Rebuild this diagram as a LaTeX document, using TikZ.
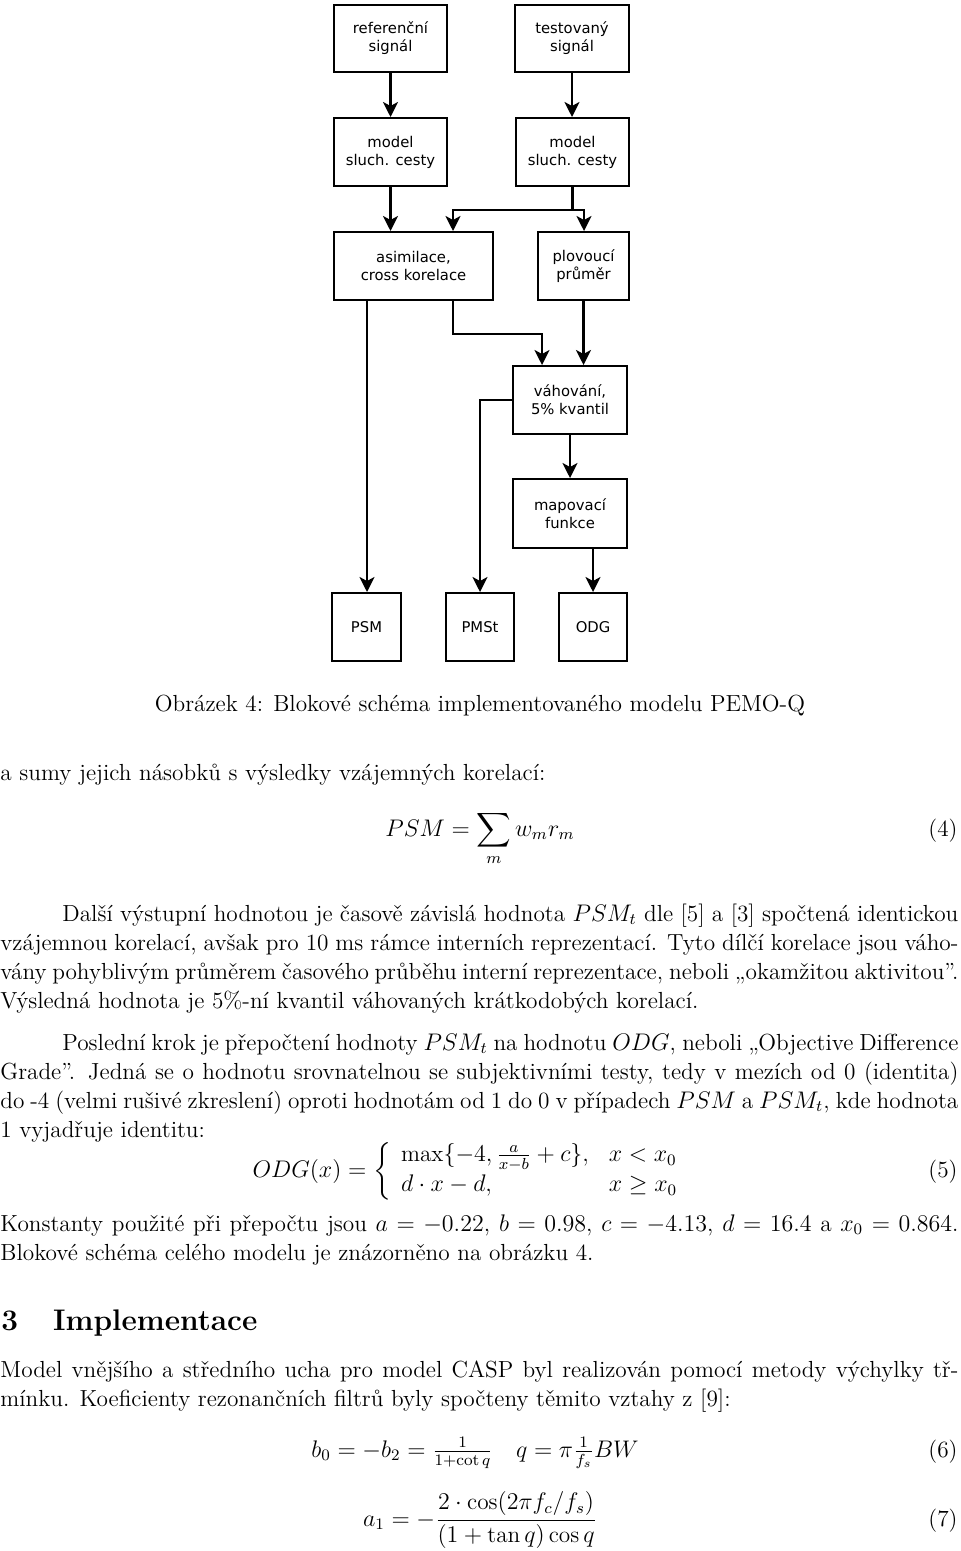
\documentclass[tikz,border=0pt]{standalone}
\usepackage{amsmath}
\usepackage{fontspec}
\newfontfamily\dejavu{DejaVu Sans}
\usetikzlibrary{arrows.meta}
\begin{document}
\begin{tikzpicture}[x=0.5pt,y=-0.5pt,
  blk/.style={draw, line width=1pt, inner sep=0pt, align=center, font=\dejavu\fontsize{7.4}{9}\selectfont},
  ln/.style={line width=1.1pt},
  arr/.style={line width=1.1pt, -{Stealth[length=7.5pt,width=7.5pt,inset=2pt]}},
  txt/.style={anchor=base west, inner sep=0pt, font=\fontsize{11.64}{14.5}\selectfont},
  eqn/.style={anchor=base, inner sep=0pt, font=\fontsize{11.64}{14.5}\selectfont},
  eqno/.style={anchor=base east, inner sep=0pt, font=\fontsize{11.64}{14.5}\selectfont}
]
\useasboundingbox (0,0) rectangle (960,1551);
\fill[white] (0,0) rectangle (960,1551);

% ---------- block diagram ----------
\node[blk, minimum width=56.5pt, minimum height=33.5pt] (ref)  at (390.5,38.5) {referenční\\signál};
\node[blk, minimum width=57pt,   minimum height=33.5pt] (test) at (572,38.5)   {testovaný\\signál};
\node[blk, minimum width=56.5pt, minimum height=34pt]   (mL)   at (390.5,152)  {model\\sluch. cesty};
\node[blk, minimum width=56.5pt, minimum height=34pt]   (mR)   at (572.5,152)  {model\\sluch. cesty};
\node[blk, minimum width=79.5pt, minimum height=34pt]   (asim) at (413.5,266)  {asimilace,\\cross korelace};
\node[blk, minimum width=45.5pt, minimum height=34pt]   (plov) at (583.5,266)  {plovoucí\\průměr};
\node[blk, minimum width=57pt,   minimum height=34pt]   (vah)  at (570,400)    {váhování,\\5\% kvantil};
\node[blk, minimum width=57pt,   minimum height=34.5pt] (map)  at (570,513.5)  {mapovací\\funkce};
\node[blk, minimum width=34.5pt, minimum height=34pt]   (psm)  at (366.5,627)  {PSM};
\node[blk, minimum width=34pt,   minimum height=34pt]   (pmst) at (480,627)    {PMSt};
\node[blk, minimum width=34pt,   minimum height=34pt]   (odg)  at (593,627)    {ODG};

\draw[arr] (ref.south) -- (mL.north);
\draw[arr] (test.south) -- (test.south |- mR.north);
\draw[arr] (mL.south) -- (mL.south |- asim.north);
\draw[ln] (mR.south) -- ++(0,23) coordinate (sp);
\draw[arr] (sp) -| ([xshift=19.75pt]asim.north);
\draw[arr] (sp) -| ([xshift=0.25pt]plov.north);
\draw[arr] ([xshift=-23.25pt]asim.south) -- ([xshift=-23.25pt]asim.south |- psm.north);
\draw[arr] ([xshift=19.75pt]asim.south) -- ++(0,33) -| ([xshift=-14pt]vah.north);
\draw[arr] (plov.south) -- (plov.south |- vah.north);
\draw[arr] (vah.west) -| (pmst.north);
\draw[arr] (vah.south) -- (vah.south |- map.north);
\draw[arr] (map.south -| odg.north) -- (odg.north);

% ---------- text ----------
\node[eqn] (cap) at (480,711) {Obrázek 4: Blokové schéma implementovaného modelu PEMO-Q};
\node[txt] (t1) at (0,780) {a sumy jejich násobků s výsledky vzájemných korelací:};
\node[eqn] (e4) at (480,836) {$\displaystyle PSM = \sum_m w_m r_m$};
\node[eqno] (n4) at (958,836) {(4)};

\node[txt] (p1a) at (62,921) {\makebox[448pt][s]{Další výstupní hodnotou je časově závislá hodnota $PSM_t$ dle [5] a [3] spočtená identickou}};
\node[txt] (p1b) at (0,950) {\makebox[479pt][s]{vzájemnou korelací, avšak pro 10 ms rámce interních reprezentací. Tyto dílčí korelace jsou váho-}};
\node[txt] (p1c) at (0,979) {\makebox[479pt][s]{vány pohyblivým průměrem časového průběhu interní reprezentace, neboli „okamžitou aktivitou”.}};
\node[txt] (p1d) at (0,1008) {Výsledná hodnota je 5\%-ní kvantil váhovaných krátkodobých korelací.};

\node[txt] (p2a) at (62,1050) {\makebox[448pt][s]{Poslední krok je přepočtení hodnoty $PSM_t$ na hodnotu $ODG$, neboli „Objective Difference}};
\node[txt] (p2b) at (0,1079) {\makebox[479pt][s]{Grade”. Jedná se o hodnotu srovnatelnou se subjektivními testy, tedy v mezích od 0 (identita)}};
\node[txt] (p2c) at (0,1108) {\makebox[479pt][s]{do -4 (velmi rušivé zkreslení) oproti hodnotám od 1 do 0 v případech $PSM$ a $PSM_t$, kde hodnota}};
\node[txt] (p2d) at (0,1137) {1 vyjadřuje identitu:};

\node[eqn] (e5) at (471,1177) {$\displaystyle ODG(x) = \left\{\begin{array}{ll} \max\{-4, \frac{a}{x-b}+c\}, & x < x_0\\ d\cdot x - d, & x \ge x_0\end{array}\right.$};
\node[eqno] (n5) at (958,1177) {(5)};

\node[txt] (k1) at (0,1231) {\makebox[479pt][s]{Konstanty použité při přepočtu jsou $a = -0.22$, $b = 0.98$, $c = -4.13$, $d = 16.4$ a $x_0 = 0.864$.}};
\node[txt] (k2) at (0,1260) {Blokové schéma celého modelu je znázorněno na obrázku 4.};

\node[txt, font=\fontsize{14.9}{18}\selectfont\bfseries] (sec) at (1,1330) {3\hspace{17.5pt}Implementace};

\node[txt] (m1) at (0,1377) {\makebox[479pt][s]{Model vnějšího a středního ucha pro model CASP byl realizován pomocí metody výchylky tř-}};
\node[txt] (m2) at (0,1406) {mínku. Koeficienty rezonančních filtrů byly spočteny těmito vztahy z [9]:};

\node[eqn] (e6) at (475,1457) {$\displaystyle b_0 = -b_2 = \tfrac{1}{1+\cot q} \quad q = \pi\tfrac{1}{f_s}BW$};
\node[eqno] (n6) at (958,1457) {(6)};
\node[eqn] (e7) at (480,1526) {$\displaystyle a_1 = -\frac{2\cdot\cos(2\pi f_c/f_s)}{(1+\tan q)\cos q}$};
\node[eqno] (n7) at (958,1526) {(7)};
\end{tikzpicture}
\end{document}
